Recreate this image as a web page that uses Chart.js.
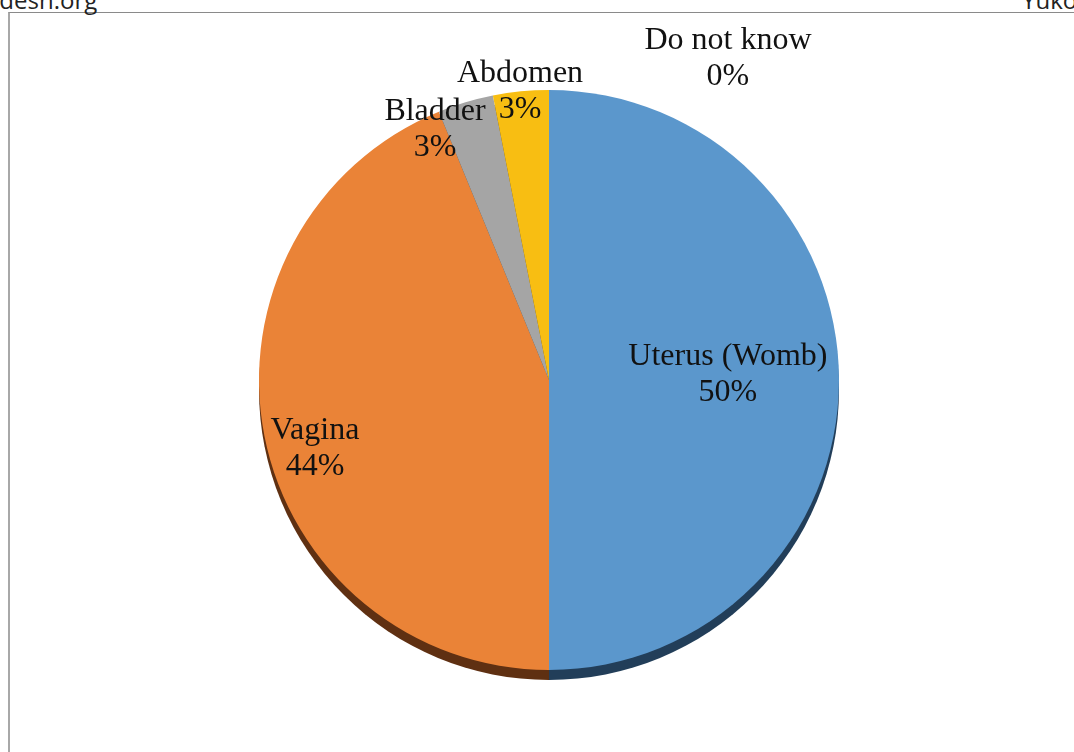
<!DOCTYPE html>
<html>
<head>
<meta charset="utf-8">
<script src="https://cdn.jsdelivr.net/npm/chart.js@4/dist/chart.umd.min.js"></script>
<style>
  html, body { margin: 0; padding: 0; background: #fff; overflow: hidden; }
  #wrap { position: relative; width: 1074px; height: 752px; }
  #frame { position: absolute; left: 8px; top: 12px; width: 1200px; height: 900px;
           border-top: 1px solid #8a8a8a; border-left: 2px solid #a8a8a8; box-sizing: border-box; }
  .hdr { position: absolute; font-family: "Open Sans", "Liberation Sans", sans-serif; font-size: 24px;
         color: #222; line-height: 1; white-space: nowrap; }
  #hl { left: -14px; top: -12px; }
  #hr { left: 1022px; top: -12px; }
  canvas { position: absolute; left: 0; top: 0; }
</style>
</head>
<body>
<div id="wrap">
  <div id="frame"></div>
  <div class="hdr" id="hl">adesh.org</div>
  <div class="hdr" id="hr">Yuko</div>
  <canvas id="c" width="1074" height="752"></canvas>
</div>
<script>
const categories = ["Uterus (Womb)", "Vagina", "Bladder", "Abdomen", "Do not know"];
const values = [50, 43.8, 3.1, 3.1, 0];
const colors = ["#5B97CC", "#EA8337", "#A5A5A5", "#F8BE12", "#4A73B8"];
const depthColors = ["#223E59", "#5F3012", "#4A4A4A", "#6A5208", "#20324F"];

// label anchor, relative to pie centre, in units of radius
const labelAnchors = [[0.617, -0.02], [-0.807, 0.238], [-0.393, -0.862], [-0.1, -0.993], [0.617, -1.107]];

const total = values.reduce((a, b) => a + b, 0);

const depthPlugin = {
  id: 'depth',
  beforeDatasetsDraw(chart) {
    const ctx = chart.ctx;
    const meta = chart.getDatasetMeta(0);
    const d = 10;
    meta.data.forEach((arc, i) => {
      const p = arc.getProps(['x', 'y', 'startAngle', 'endAngle', 'outerRadius'], true);
      if (p.endAngle - p.startAngle <= 0) return;
      ctx.save();
      ctx.beginPath();
      ctx.moveTo(p.x, p.y + d);
      ctx.arc(p.x, p.y + d, p.outerRadius, p.startAngle, p.endAngle);
      ctx.closePath();
      ctx.fillStyle = depthColors[i];
      ctx.fill();
      ctx.restore();
    });
  }
};

const labelPlugin = {
  id: 'labels',
  afterDatasetsDraw(chart) {
    const ctx = chart.ctx;
    const meta = chart.getDatasetMeta(0);
    const first = meta.data[0].getProps(['x', 'y', 'outerRadius'], true);
    ctx.save();
    ctx.font = '32px "Liberation Serif", "Times New Roman", serif';
    ctx.fillStyle = '#111';
    ctx.textAlign = 'center';
    ctx.textBaseline = 'middle';
    categories.forEach((c, i) => {
      const a = labelAnchors[i];
      const cx = first.x + a[0] * first.outerRadius;
      const cy = first.y + a[1] * first.outerRadius;
      const pct = Math.round(values[i] / total * 100) + '%';
      ctx.fillText(c, cx, cy - 18);
      ctx.fillText(pct, cx, cy + 18);
    });
    ctx.restore();
  }
};

new Chart(document.getElementById('c'), {
  type: 'pie',
  data: {
    labels: categories,
    datasets: [{
      data: values,
      backgroundColor: colors,
      borderWidth: 0
    }]
  },
  options: {
    responsive: false,
    animation: false,
    layout: { padding: { left: 124, right: 100, top: 90, bottom: 82 } },
    plugins: { legend: { display: false }, tooltip: { enabled: false } }
  },
  plugins: [depthPlugin, labelPlugin]
});
</script>
</body>
</html>
